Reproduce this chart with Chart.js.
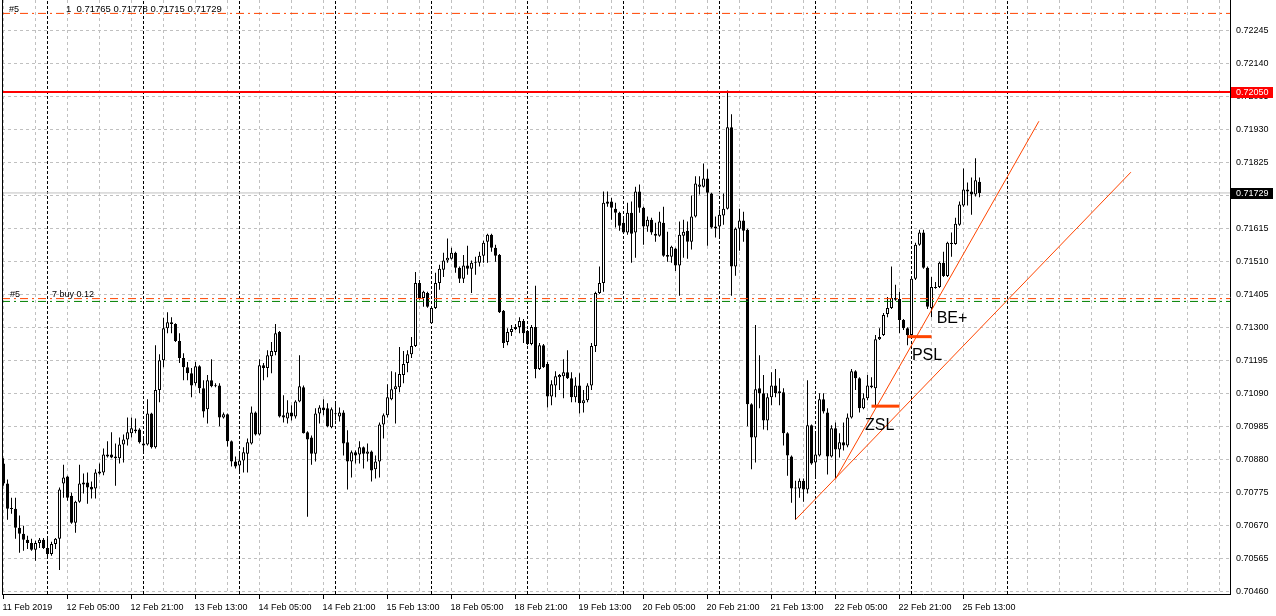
<!DOCTYPE html>
<html>
<head>
<meta charset="utf-8">
<script src="https://cdn.jsdelivr.net/npm/chart.js@4.4.1/dist/chart.umd.min.js"></script>
<style>
  html, body { margin: 0; padding: 0; background: #fff; }
</style>
</head>
<body>
<canvas id="priceChart" width="1276" height="616"></canvas>
<script>
// H1 candles, bar 0 = 11 Feb 2019 13:00
const barOpen = [
  0.70869, 0.70805, 0.70726, 0.70725, 0.70664, 0.70645, 0.70626, 0.70616, 0.70594, 0.70616,
  0.70626, 0.70600, 0.70581, 0.70613, 0.70629, 0.70805, 0.70827, 0.70766, 0.70680, 0.70747,
  0.70808, 0.70808, 0.70795, 0.70789, 0.70837, 0.70840, 0.70897, 0.70897, 0.70891, 0.70885,
  0.70929, 0.70945, 0.70965, 0.70971, 0.70977, 0.70932, 0.70929, 0.71028, 0.70920, 0.71102,
  0.71197, 0.71299, 0.71318, 0.71312, 0.71258, 0.71204, 0.71175, 0.71156, 0.71124, 0.71178,
  0.71108, 0.71041, 0.71133, 0.71114, 0.71117, 0.71015, 0.71025, 0.70939, 0.70875, 0.70862,
  0.70878, 0.70900, 0.70932, 0.71031, 0.70961, 0.71181, 0.71172, 0.71210, 0.71223, 0.71287,
  0.71022, 0.71012, 0.71031, 0.71018, 0.71066, 0.71111, 0.70968, 0.70951, 0.70900, 0.71028,
  0.71047, 0.71044, 0.70984, 0.71028, 0.71018, 0.71031, 0.70936, 0.70875, 0.70904, 0.70897,
  0.70920, 0.70900, 0.70907, 0.70850, 0.70875, 0.70993, 0.71022, 0.71073, 0.71105, 0.71111,
  0.71150, 0.71188, 0.71216, 0.71242, 0.71443, 0.71395, 0.71411, 0.71315, 0.71363, 0.71443,
  0.71485, 0.71514, 0.71520, 0.71539, 0.71491, 0.71456, 0.71498, 0.71488, 0.71510, 0.71507,
  0.71529, 0.71574, 0.71596, 0.71555, 0.71532, 0.71354, 0.71255, 0.71287, 0.71296, 0.71303,
  0.71322, 0.71290, 0.71249, 0.71303, 0.71169, 0.71245, 0.71185, 0.71082, 0.71117, 0.71143,
  0.71146, 0.71159, 0.71140, 0.71079, 0.71117, 0.71060, 0.71070, 0.71117, 0.71242, 0.71411,
  0.71443, 0.71702, 0.71702, 0.71679, 0.71666, 0.71634, 0.71603, 0.71666, 0.71603, 0.71734,
  0.71682, 0.71622, 0.71644, 0.71599, 0.71593, 0.71634, 0.71532, 0.71526, 0.71552, 0.71498,
  0.71593, 0.71609, 0.71574, 0.71654, 0.71749, 0.71749, 0.71775, 0.71727, 0.71622, 0.71622,
  0.71657, 0.71679, 0.71938, 0.71495, 0.71615, 0.71641, 0.71612, 0.71057, 0.70951, 0.71108,
  0.71092, 0.71005, 0.71079, 0.71117, 0.71092, 0.71095, 0.70965, 0.70891, 0.70789, 0.70789,
  0.70814, 0.70786, 0.70990, 0.70872, 0.70894, 0.71073, 0.71031, 0.70891, 0.70981, 0.70913,
  0.70936, 0.70926, 0.71015, 0.71162, 0.71140, 0.71044, 0.71076, 0.71117, 0.71108, 0.71264,
  0.71277, 0.71344, 0.71363, 0.71395, 0.71392, 0.71325, 0.71299, 0.71277, 0.71456, 0.71564,
  0.71603, 0.71491, 0.71363, 0.71427, 0.71430, 0.71507, 0.71465, 0.71571, 0.71567, 0.71628,
  0.71689, 0.71740, 0.71734, 0.71724, 0.71765
];
const barHigh = [
  0.70885, 0.70818, 0.70760, 0.70760, 0.70703, 0.70671, 0.70639, 0.70629, 0.70623, 0.70632,
  0.70632, 0.70632, 0.70620, 0.70632, 0.70792, 0.70865, 0.70830, 0.70776, 0.70750, 0.70865,
  0.70837, 0.70840, 0.70811, 0.70850, 0.70869, 0.70916, 0.70939, 0.70968, 0.70932, 0.70951,
  0.70961, 0.71015, 0.71015, 0.71012, 0.70981, 0.70951, 0.71073, 0.71030, 0.71245, 0.71216,
  0.71332, 0.71350, 0.71334, 0.71315, 0.71283, 0.71219, 0.71191, 0.71172, 0.71191, 0.71181,
  0.71133, 0.71150, 0.71200, 0.71124, 0.71124, 0.71031, 0.71028, 0.70942, 0.70891, 0.70900,
  0.70920, 0.70948, 0.71050, 0.71034, 0.71200, 0.71188, 0.71229, 0.71255, 0.71312, 0.71290,
  0.71086, 0.71070, 0.71054, 0.71070, 0.71213, 0.71117, 0.70971, 0.70958, 0.71044, 0.71054,
  0.71073, 0.71060, 0.71047, 0.71060, 0.71047, 0.71038, 0.70974, 0.70910, 0.70910, 0.70939,
  0.70923, 0.70932, 0.70910, 0.70894, 0.70999, 0.71028, 0.71121, 0.71162, 0.71159, 0.71239,
  0.71226, 0.71229, 0.71271, 0.71478, 0.71452, 0.71418, 0.71415, 0.71367, 0.71475, 0.71501,
  0.71539, 0.71584, 0.71555, 0.71542, 0.71495, 0.71532, 0.71561, 0.71514, 0.71526, 0.71542,
  0.71577, 0.71599, 0.71599, 0.71564, 0.71535, 0.71357, 0.71299, 0.71309, 0.71312, 0.71334,
  0.71328, 0.71293, 0.71309, 0.71434, 0.71252, 0.71249, 0.71191, 0.71133, 0.71162, 0.71153,
  0.71200, 0.71229, 0.71159, 0.71143, 0.71156, 0.71102, 0.71124, 0.71252, 0.71415, 0.71495,
  0.71734, 0.71734, 0.71714, 0.71698, 0.71669, 0.71654, 0.71698, 0.71702, 0.71749, 0.71756,
  0.71685, 0.71654, 0.71650, 0.71634, 0.71669, 0.71685, 0.71606, 0.71561, 0.71555, 0.71638,
  0.71644, 0.71638, 0.71721, 0.71782, 0.71782, 0.71823, 0.71804, 0.71730, 0.71654, 0.71676,
  0.71727, 0.72055, 0.71979, 0.71619, 0.71679, 0.71669, 0.71615, 0.71060, 0.71309, 0.71213,
  0.71150, 0.71092, 0.71159, 0.71169, 0.71140, 0.71108, 0.70968, 0.70894, 0.70814, 0.70821,
  0.70821, 0.71133, 0.70993, 0.70965, 0.71092, 0.71092, 0.71044, 0.70990, 0.70999, 0.70965,
  0.70999, 0.71028, 0.71169, 0.71165, 0.71143, 0.71092, 0.71150, 0.71143, 0.71277, 0.71299,
  0.71347, 0.71398, 0.71495, 0.71437, 0.71415, 0.71328, 0.71302, 0.71459, 0.71571, 0.71612,
  0.71612, 0.71495, 0.71462, 0.71446, 0.71510, 0.71542, 0.71574, 0.71603, 0.71650, 0.71702,
  0.71807, 0.71762, 0.71778, 0.71839, 0.71778
];
const barLow = [
  0.70798, 0.70690, 0.70709, 0.70629, 0.70585, 0.70591, 0.70597, 0.70591, 0.70559, 0.70600,
  0.70597, 0.70569, 0.70575, 0.70597, 0.70530, 0.70760, 0.70750, 0.70677, 0.70648, 0.70744,
  0.70773, 0.70741, 0.70757, 0.70757, 0.70834, 0.70831, 0.70888, 0.70885, 0.70798, 0.70869,
  0.70872, 0.70926, 0.70951, 0.70965, 0.70932, 0.70900, 0.70926, 0.70916, 0.70916, 0.71063,
  0.71175, 0.71283, 0.71283, 0.71255, 0.71188, 0.71133, 0.71133, 0.71079, 0.71117, 0.71092,
  0.71015, 0.70996, 0.71111, 0.71111, 0.70987, 0.71012, 0.70923, 0.70859, 0.70853, 0.70840,
  0.70840, 0.70840, 0.70929, 0.70958, 0.70958, 0.71133, 0.71143, 0.71156, 0.71213, 0.71015,
  0.70999, 0.70996, 0.71005, 0.71012, 0.71063, 0.70964, 0.70699, 0.70865, 0.70875, 0.70996,
  0.71022, 0.70984, 0.70981, 0.71005, 0.71002, 0.70894, 0.70786, 0.70824, 0.70869, 0.70869,
  0.70853, 0.70875, 0.70811, 0.70821, 0.70824, 0.70948, 0.71015, 0.71070, 0.70996, 0.71095,
  0.71124, 0.71159, 0.71204, 0.71239, 0.71389, 0.71367, 0.71364, 0.71312, 0.71360, 0.71421,
  0.71462, 0.71507, 0.71517, 0.71475, 0.71443, 0.71443, 0.71469, 0.71411, 0.71469, 0.71495,
  0.71507, 0.71507, 0.71542, 0.71510, 0.71347, 0.71236, 0.71245, 0.71274, 0.71293, 0.71283,
  0.71252, 0.71245, 0.71245, 0.71140, 0.71166, 0.71172, 0.71047, 0.71054, 0.71079, 0.71102,
  0.71076, 0.71137, 0.71063, 0.71063, 0.71028, 0.71031, 0.71063, 0.71102, 0.71223, 0.71408,
  0.71415, 0.71685, 0.71644, 0.71619, 0.71609, 0.71600, 0.71596, 0.71507, 0.71523, 0.71666,
  0.71564, 0.71606, 0.71596, 0.71574, 0.71590, 0.71526, 0.71510, 0.71507, 0.71481, 0.71402,
  0.71523, 0.71520, 0.71549, 0.71651, 0.71724, 0.71746, 0.71561, 0.71616, 0.71587, 0.71590,
  0.71628, 0.71676, 0.71402, 0.71466, 0.71545, 0.71574, 0.70987, 0.70850, 0.70872, 0.71044,
  0.70977, 0.70974, 0.71054, 0.71079, 0.71054, 0.70926, 0.70830, 0.70744, 0.70690, 0.70760,
  0.70747, 0.70773, 0.70865, 0.70824, 0.70891, 0.71028, 0.70834, 0.70888, 0.70821, 0.70888,
  0.70910, 0.70920, 0.71012, 0.71102, 0.71031, 0.71041, 0.71070, 0.71108, 0.71054, 0.71261,
  0.71274, 0.71334, 0.71360, 0.71386, 0.71283, 0.71293, 0.71245, 0.71271, 0.71452, 0.71561,
  0.71488, 0.71360, 0.71334, 0.71424, 0.71427, 0.71462, 0.71462, 0.71526, 0.71564, 0.71625,
  0.71685, 0.71689, 0.71660, 0.71718, 0.71715
];
const barClose = [
  0.70805, 0.70725, 0.70724, 0.70664, 0.70645, 0.70626, 0.70616, 0.70594, 0.70616, 0.70626,
  0.70600, 0.70581, 0.70613, 0.70629, 0.70786, 0.70824, 0.70760, 0.70680, 0.70747, 0.70805,
  0.70802, 0.70792, 0.70786, 0.70840, 0.70843, 0.70897, 0.70891, 0.70888, 0.70885, 0.70929,
  0.70945, 0.70968, 0.70981, 0.70977, 0.70936, 0.70926, 0.71028, 0.70920, 0.71102, 0.71197,
  0.71299, 0.71318, 0.71312, 0.71258, 0.71204, 0.71175, 0.71156, 0.71117, 0.71178, 0.71108,
  0.71034, 0.71133, 0.71114, 0.71117, 0.71015, 0.71025, 0.70939, 0.70875, 0.70859, 0.70878,
  0.70904, 0.70936, 0.71031, 0.70961, 0.71181, 0.71172, 0.71213, 0.71226, 0.71283, 0.71018,
  0.71015, 0.71031, 0.71018, 0.71066, 0.71114, 0.70965, 0.70945, 0.70900, 0.71028, 0.71047,
  0.71038, 0.70987, 0.71041, 0.71025, 0.71031, 0.70932, 0.70875, 0.70904, 0.70894, 0.70920,
  0.70900, 0.70907, 0.70846, 0.70875, 0.70993, 0.71022, 0.71079, 0.71105, 0.71114, 0.71153,
  0.71185, 0.71216, 0.71242, 0.71443, 0.71395, 0.71415, 0.71367, 0.71363, 0.71443, 0.71488,
  0.71514, 0.71523, 0.71539, 0.71491, 0.71456, 0.71498, 0.71488, 0.71507, 0.71507, 0.71529,
  0.71571, 0.71596, 0.71555, 0.71529, 0.71350, 0.71252, 0.71287, 0.71296, 0.71303, 0.71322,
  0.71283, 0.71249, 0.71303, 0.71169, 0.71245, 0.71175, 0.71082, 0.71121, 0.71146, 0.71150,
  0.71159, 0.71140, 0.71079, 0.71117, 0.71060, 0.71070, 0.71117, 0.71242, 0.71411, 0.71443,
  0.71698, 0.71695, 0.71682, 0.71666, 0.71625, 0.71603, 0.71666, 0.71599, 0.71734, 0.71682,
  0.71622, 0.71644, 0.71603, 0.71593, 0.71638, 0.71529, 0.71526, 0.71558, 0.71498, 0.71596,
  0.71606, 0.71574, 0.71654, 0.71759, 0.71756, 0.71775, 0.71730, 0.71619, 0.71616, 0.71660,
  0.71679, 0.71938, 0.71495, 0.71615, 0.71641, 0.71609, 0.71057, 0.70951, 0.71105, 0.71092,
  0.71005, 0.71079, 0.71117, 0.71092, 0.71098, 0.70965, 0.70894, 0.70789, 0.70792, 0.70814,
  0.70786, 0.70990, 0.70869, 0.70897, 0.71073, 0.71034, 0.70891, 0.70981, 0.70913, 0.70936,
  0.70926, 0.71015, 0.71162, 0.71140, 0.71044, 0.71076, 0.71117, 0.71111, 0.71264, 0.71271,
  0.71341, 0.71363, 0.71395, 0.71389, 0.71325, 0.71299, 0.71277, 0.71456, 0.71564, 0.71603,
  0.71491, 0.71367, 0.71430, 0.71430, 0.71507, 0.71465, 0.71571, 0.71567, 0.71631, 0.71692,
  0.71740, 0.71734, 0.71724, 0.71769, 0.71729
];

// time axis: a label every 16 bars, a grid line every 8
const xLabels = [
  '11 Feb 2019', '12 Feb 05:00', '12 Feb 21:00', '13 Feb 13:00', '14 Feb 05:00',
  '14 Feb 21:00', '15 Feb 13:00', '18 Feb 05:00', '18 Feb 21:00', '19 Feb 13:00',
  '20 Feb 05:00', '20 Feb 21:00', '21 Feb 13:00', '22 Feb 05:00', '22 Feb 21:00',
  '25 Feb 13:00'
];
const xLabelStep = 16;
const xGridStep = 8;
// bars that open a new day (00:00)
const daySeparators = [11, 35, 59, 83, 107, 131, 155, 179, 203, 227, 251];

// price axis
const yTicks = [
  0.70460, 0.70565, 0.70670, 0.70775, 0.70880, 0.70985, 0.71090, 0.71195, 0.71300,
  0.71405, 0.71510, 0.71615, 0.71720, 0.71825, 0.71930, 0.72035, 0.72140, 0.72245
];
const xMin = -0.375, xMax = 306.625;
const yMin = 0.704536, yMax = 0.723426;

// levels
const resistanceLevel = 0.72050;
const bidPrice = 0.71729;
const orderLevels = [0.72300, 0.71393];
const greenLevel = 0.71384;

// trend lines, [bar, price]
const trendFast = [[207.9, 0.70817], [258.85, 0.71957]];
const trendSlow = [[198, 0.70690], [281.85, 0.71795]];

// stop markers
const zslSegment = [[217, 0.71051], [224, 0.71051]];
const pslSegment = [[226, 0.71272], [232, 0.71272]];

const chartNotes = [
  { text: 'ZSL', bar: 215.4, price: 0.70974 },
  { text: 'PSL', bar: 227.1, price: 0.71197 },
  { text: 'BE+', bar: 233.3, price: 0.71316 }
];

const axisFont = { family: 'Liberation Sans', size: 9 };
const orangeRed = '#ff4500';

const bodies = barOpen.map((o, i) => ({ x: i, y: [o, barClose[i]] }));
const wicks = barLow.map((l, i) => ({ x: i, y: [l, barHigh[i]] }));
const bodyFill = barOpen.map((o, i) => barClose[i] >= o ? '#ffffff' : '#000000');

const toPoints = pairs => pairs.map(p => ({ x: p[0], y: p[1] }));
const levelLine = v => [{ x: xMin, y: v }, { x: xMax, y: v }];

const separatorPoints = [];
daySeparators.forEach(b => {
  separatorPoints.push({ x: b, y: yMin }, { x: b, y: yMax }, { x: b, y: null });
});

function lineSet(data, color, width, dash, order) {
  return {
    type: 'line',
    data: data,
    borderColor: color,
    borderWidth: width,
    borderDash: dash || [],
    pointRadius: 0,
    fill: false,
    tension: 0,
    spanGaps: false,
    order: order
  };
}

// texts, axis value boxes and frame
const decorPlugin = {
  id: 'decor',
  beforeDraw(chart) {
    const ctx = chart.ctx;
    ctx.save();
    ctx.fillStyle = '#ffffff';
    ctx.fillRect(0, 0, chart.width, chart.height);
    ctx.restore();
  },
  afterDatasetsDraw(chart) {
    const ctx = chart.ctx;
    const xs = chart.scales.x, ys = chart.scales.y;
    ctx.save();
    ctx.fillStyle = '#000';
    ctx.textBaseline = 'alphabetic';
    ctx.font = '16px "Liberation Sans"';
    chartNotes.forEach(n => {
      ctx.fillText(n.text, xs.getPixelForValue(n.bar), ys.getPixelForValue(n.price));
    });
    ctx.font = '9px "Liberation Sans"';
    ctx.fillText('#5', 9, 12);
    ctx.fillText('#5', 10, 297);
    ctx.fillText('7 buy 0.12', 52, 297);
    ctx.font = '9.5px "Liberation Sans"';
    ctx.fillText('1  0.71765 0.71778 0.71715 0.71729', 66, 12);
    ctx.restore();
  },
  afterDraw(chart) {
    const ctx = chart.ctx;
    const area = chart.chartArea;
    const ys = chart.scales.y;
    ctx.save();
    ctx.strokeStyle = '#000';
    ctx.lineWidth = 1;
    ctx.beginPath();
    ctx.moveTo(area.left + 0.5, area.top);
    ctx.lineTo(area.left + 0.5, area.bottom);
    ctx.stroke();
    const boxes = [[resistanceLevel, '#ff0000'], [bidPrice, '#000000']];
    ctx.font = '9px "Liberation Sans"';
    ctx.textBaseline = 'middle';
    boxes.forEach(b => {
      const y = Math.round(ys.getPixelForValue(b[0]));
      ctx.fillStyle = b[1];
      ctx.fillRect(area.right + 1, y - 5, 42, 11);
      ctx.fillStyle = '#ffffff';
      ctx.fillText(b[0].toFixed(5), area.right + 6, y + 0.5);
    });
    ctx.restore();
  }
};

const chart = new Chart(document.getElementById('priceChart'), {
  type: 'bar',
  data: {
    datasets: [
      lineSet(levelLine(resistanceLevel), '#ff0000', 2, [], 0),
      lineSet(toPoints(trendFast), orangeRed, 1, [], 0),
      lineSet(toPoints(trendSlow), orangeRed, 1, [], 0),
      lineSet(toPoints(zslSegment), orangeRed, 3, [], 0),
      lineSet(toPoints(pslSegment), orangeRed, 3, [], 0),
      lineSet(levelLine(orderLevels[0]), orangeRed, 1, [8, 4, 2, 4], 1),
      lineSet(levelLine(orderLevels[1]), orangeRed, 1, [8, 4, 2, 4], 1),
      lineSet(levelLine(greenLevel), '#008000', 1, [8, 4, 2, 4], 1),
      {
        type: 'bar',
        data: bodies,
        backgroundColor: bodyFill,
        borderColor: '#000000',
        borderWidth: 1,
        borderSkipped: false,
        barThickness: 3,
        minBarLength: 1,
        inflateAmount: 0,
        grouped: false,
        order: 2
      },
      {
        type: 'bar',
        data: wicks,
        backgroundColor: '#000000',
        borderWidth: 0,
        barThickness: 1,
        inflateAmount: 0,
        grouped: false,
        order: 3
      },
      lineSet(levelLine(bidPrice), '#c0c0c0', 1, [], 4),
      lineSet(separatorPoints, '#000000', 1, [3, 2], 5)
    ]
  },
  options: {
    responsive: false,
    animation: false,
    events: [],
    layout: { padding: { left: 2, top: 0, right: 0, bottom: 0 }, autoPadding: false },
    plugins: { legend: { display: false }, tooltip: { enabled: false } },
    scales: {
      x: {
        type: 'linear',
        min: xMin,
        max: xMax,
        offset: false,
        afterBuildTicks: s => {
          const t = [];
          for (let b = 0; b <= xMax; b += xGridStep) t.push({ value: b });
          s.ticks = t;
        },
        afterFit: s => { s.height = 22; s.paddingLeft = 0; s.paddingRight = 0; },
        ticks: {
          autoSkip: false,
          maxRotation: 0,
          minRotation: 0,
          align: 'start',
          labelOffset: -1,
          padding: 3,
          color: '#000',
          font: axisFont,
          callback: v => (v % xLabelStep === 0 && v / xLabelStep < xLabels.length) ? xLabels[v / xLabelStep] : ''
        },
        grid: {
          offset: false,
          color: '#c0c0c0',
          lineWidth: 1,
          drawTicks: true,
          tickLength: 5,
          tickColor: c => (c.tick && c.tick.label) ? '#000000' : 'rgba(0,0,0,0)'
        },
        border: { display: true, color: '#000', width: 1, dash: [3, 3] }
      },
      y: {
        type: 'linear',
        position: 'right',
        min: yMin,
        max: yMax,
        afterBuildTicks: s => { s.ticks = yTicks.map(v => ({ value: v })); },
        afterFit: s => { s.width = 46; s.paddingTop = 0; s.paddingBottom = 0; },
        ticks: {
          padding: 6,
          color: '#000',
          font: axisFont,
          callback: v => v.toFixed(5)
        },
        grid: { color: '#c0c0c0', lineWidth: 1, drawTicks: false },
        border: { display: true, color: '#000', width: 1, dash: [3, 3] }
      }
    }
  },
  plugins: [decorPlugin]
});
</script>
</body>
</html>
